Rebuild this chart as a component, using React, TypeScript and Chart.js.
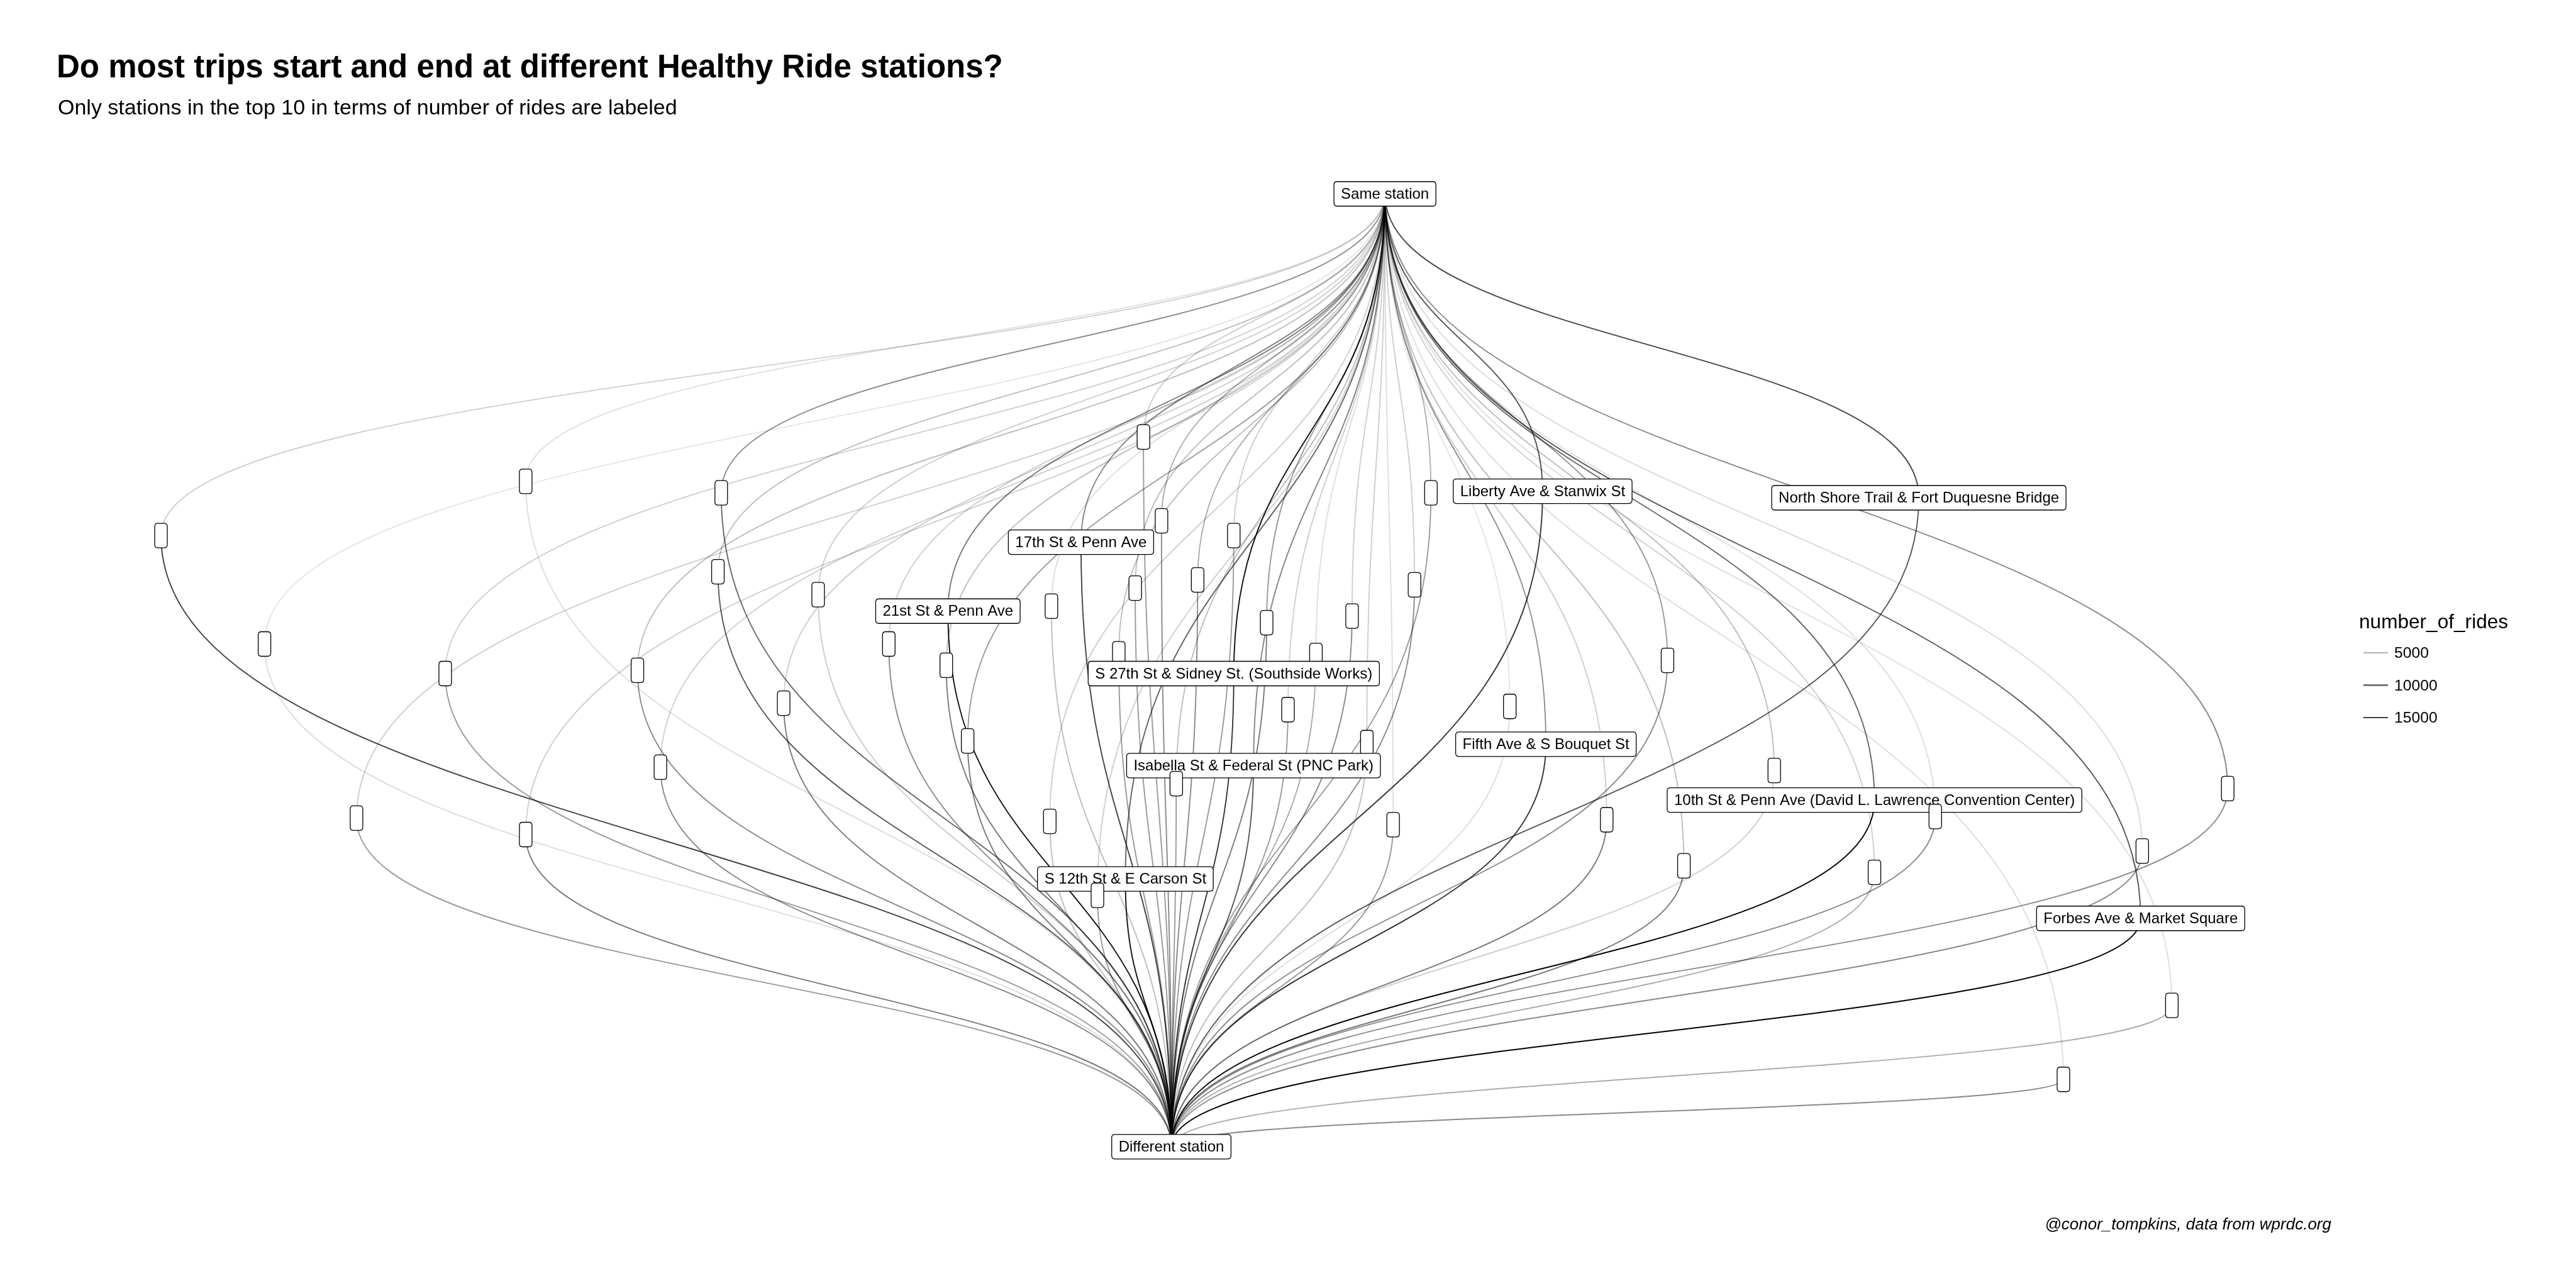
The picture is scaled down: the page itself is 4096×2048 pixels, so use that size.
import React, { useEffect, useRef } from 'react';
import { Chart, registerables } from 'chart.js';

Chart.register(...registerables);

const FONT = '"Liberation Sans", Arial, Helvetica, sans-serif';

const TITLE = 'Do most trips start and end at different Healthy Ride stations?';
const SUBTITLE = 'Only stations in the top 10 in terms of number of rides are labeled';
const CAPTION = '@conor_tompkins, data from wprdc.org';
const LEGEND_TITLE = 'number_of_rides';
const LEGEND_BREAKS = [5000, 10000, 15000];

// Hub nodes (graph layout coordinates)
const HUB_NAMES = ['Same station', 'Different station'];
const HUB_X = [8.43, 7.13];
const HUB_Y = [6.66, 0.86];

// Station nodes: label ('' = not in top 10), layout position, rides ending at same / different station
const STATION_LABELS = [
  '', '', '',
  '17th St & Penn Ave',
  '21st St & Penn Ave',
  'Liberty Ave & Stanwix St',
  'North Shore Trail & Fort Duquesne Bridge',
  'S 27th St & Sidney St. (Southside Works)',
  'Fifth Ave & S Bouquet St',
  'Isabella St & Federal St (PNC Park)',
  '10th St & Penn Ave (David L. Lawrence Convention Center)',
  'S 12th St & E Carson St',
  'Forbes Ave & Market Square',
  '', '', '', '', '', '', '', '', '', '',
  '', '', '', '', '', '', '', '', '', '',
  '', '', '', '', '', '', '', '', '', '',
  '', '', '', '', '', '', '', '', '', '', '',
];
const STATION_X = [
  6.81, 8.01, 8.32,
  6.58, 5.77, 9.39, 11.68, 7.51, 9.41, 7.63, 11.41, 6.85, 13.03,
  6.96, 3.20, 4.39, 8.71, 0.98, 7.07, 7.51, 4.37, 7.29, 8.61,
  4.98, 6.91, 6.40, 8.23, 7.71, 1.61, 5.41, 5.76, 3.88, 2.71,
  10.15, 4.77, 7.84, 9.19, 5.89, 4.02, 10.80, 7.16, 13.56, 2.17,
  6.39, 11.78, 8.48, 9.78, 3.20, 13.04, 10.25, 11.41, 6.68, 13.22, 12.56,
];
const STATION_Y = [
  3.86, 3.85, 3.32,
  4.54, 4.12, 4.85, 4.81, 3.74, 3.31, 3.18, 2.97, 2.49, 2.25,
  5.18, 4.91, 4.84, 4.84, 4.58, 4.67, 4.58, 4.36, 4.31, 4.28,
  4.22, 4.26, 4.15, 4.09, 4.05, 3.92, 3.92, 3.79, 3.76, 3.74,
  3.82, 3.56, 3.52, 3.54, 3.33, 3.17, 3.15, 3.07, 3.04, 2.86,
  2.84, 2.87, 2.82, 2.85, 2.76, 2.66, 2.57, 2.53, 2.39, 1.72, 1.27,
];
const RIDES_SAME = [
  3800, 900, 2300,
  9000, 10000, 13500, 14500, 19500, 8000, 9000, 11500, 12000, 13000,
  2300, 800, 8000, 5000, 2300, 5400, 2300, 3800, 5400, 2300,
  2300, 3800, 1000, 2300, 7000, 300, 2300, 3800, 3800, 2300,
  7000, 2300, 2300, 150, 6900, 2300, 3800, 3800, 8500, 2300,
  2300, 1000, 1000, 2300, 2300, 1200, 3800, 2300, 2300, 900, 900,
];
const RIDES_DIFFERENT = [
  7000, 5400, 3800,
  15000, 19500, 16000, 13000, 16000, 16500, 13000, 20500, 19000, 20800,
  7000, 900, 11500, 7000, 15000, 8500, 7000, 13000, 8500, 8500,
  2500, 7000, 3800, 8500, 10000, 1000, 8500, 10000, 8500, 7000,
  8500, 10000, 7000, 900, 10000, 8500, 2300, 7000, 8500, 7000,
  3800, 8500, 7000, 10000, 10000, 8500, 10000, 5400, 7000, 5400, 8500,
];

const ALL_RIDES = [...RIDES_SAME, ...RIDES_DIFFERENT];
const RIDES_MIN = Math.min(...ALL_RIDES);
const RIDES_MAX = Math.max(...ALL_RIDES);
const alphaFor = (v: number) => 0.1 + (0.9 * (v - RIDES_MIN)) / (RIDES_MAX - RIDES_MIN);

const W = 4096;
const H = 2048;

const LABEL_FONT = `24px ${FONT}`;
const BOX_H = 39;
const BOX_PAD = 11;
const EMPTY_BOX_W = 20;

function roundRectPath(ctx: CanvasRenderingContext2D, x: number, y: number, w: number, h: number, r: number) {
  ctx.beginPath();
  ctx.moveTo(x + r, y);
  ctx.lineTo(x + w - r, y);
  ctx.quadraticCurveTo(x + w, y, x + w, y + r);
  ctx.lineTo(x + w, y + h - r);
  ctx.quadraticCurveTo(x + w, y + h, x + w - r, y + h);
  ctx.lineTo(x + r, y + h);
  ctx.quadraticCurveTo(x, y + h, x, y + h - r);
  ctx.lineTo(x, y + r);
  ctx.quadraticCurveTo(x, y, x + r, y);
  ctx.closePath();
}

const networkPlugin = {
  id: 'networkEdges',
  beforeDatasetsDraw(chart: any) {
    const { ctx, scales } = chart;
    const xs = scales.x;
    const ys = scales.y;
    const edges: { fx: number; fy: number; tx: number; ty: number; v: number }[] = [];
    for (let i = 0; i < STATION_X.length; i++) {
      edges.push({ fx: HUB_X[0], fy: HUB_Y[0], tx: STATION_X[i], ty: STATION_Y[i], v: RIDES_SAME[i] });
      edges.push({ fx: STATION_X[i], fy: STATION_Y[i], tx: HUB_X[1], ty: HUB_Y[1], v: RIDES_DIFFERENT[i] });
    }
    edges.sort((a, b) => a.v - b.v);
    ctx.save();
    ctx.lineWidth = 1.9;
    ctx.lineCap = 'butt';
    for (const e of edges) {
      const x0 = xs.getPixelForValue(e.fx);
      const y0 = ys.getPixelForValue(e.fy);
      const x3 = xs.getPixelForValue(e.tx);
      const y3 = ys.getPixelForValue(e.ty);
      const ym = (y0 + y3) / 2;
      ctx.strokeStyle = `rgba(0,0,0,${alphaFor(e.v).toFixed(3)})`;
      ctx.beginPath();
      ctx.moveTo(x0, y0);
      ctx.bezierCurveTo(x0, ym, x3, ym, x3, y3);
      ctx.stroke();
    }
    ctx.restore();
  },
  afterDatasetsDraw(chart: any) {
    const { ctx } = chart;
    const meta = chart.getDatasetMeta(0);
    const labels = [...STATION_LABELS, ...HUB_NAMES];
    ctx.save();
    ctx.font = LABEL_FONT;
    ctx.textAlign = 'center';
    ctx.textBaseline = 'middle';
    meta.data.forEach((pt: any, i: number) => {
      const text = labels[i];
      const w = text ? ctx.measureText(text).width + 2 * BOX_PAD : EMPTY_BOX_W;
      const x = pt.x - w / 2;
      const y = pt.y - BOX_H / 2;
      roundRectPath(ctx, x, y, w, BOX_H, 5);
      ctx.fillStyle = '#ffffff';
      ctx.fill();
      ctx.lineWidth = 1.3;
      ctx.strokeStyle = '#000000';
      ctx.stroke();
      if (text) {
        ctx.fillStyle = '#000000';
        ctx.fillText(text, pt.x, pt.y + 1);
      }
    });
    ctx.restore();
  },
};

export default function App() {
  const canvasRef = useRef<HTMLCanvasElement | null>(null);

  useEffect(() => {
    const canvas = canvasRef.current;
    if (!canvas) return;
    const points = [
      ...STATION_X.map((x, i) => ({ x, y: STATION_Y[i] })),
      ...HUB_X.map((x, i) => ({ x, y: HUB_Y[i] })),
    ];
    const chart = new Chart(canvas, {
      type: 'scatter',
      data: {
        datasets: [
          {
            data: points,
            pointRadius: 0,
            pointHoverRadius: 0,
            showLine: false,
          },
        ],
      },
      options: {
        responsive: false,
        animation: false,
        devicePixelRatio: 1,
        events: [],
        layout: { padding: 0 },
        plugins: {
          legend: { display: false },
          tooltip: { enabled: false },
          title: { display: false },
        },
        scales: {
          x: { type: 'linear', min: 0, max: 15.68, display: false },
          y: { type: 'linear', min: 0, max: 7.84, display: false },
        },
      },
      plugins: [networkPlugin],
    } as any);
    return () => chart.destroy();
  }, []);

  const legendKeyY = [1038, 1089.5, 1141];

  return (
    <div
      style={{
        position: 'fixed',
        left: 0,
        top: 0,
        width: W,
        height: H,
        background: '#ffffff',
        overflow: 'hidden',
        fontFamily: FONT,
        color: '#000',
      }}
    >
      <canvas
        ref={canvasRef}
        width={W}
        height={H}
        style={{ position: 'absolute', left: 0, top: 0, width: W, height: H }}
      />
      <div
        style={{
          position: 'absolute',
          left: 90,
          top: 80,
          fontSize: 51,
          lineHeight: '51px',
          fontWeight: 'bold',
          whiteSpace: 'nowrap',
        }}
      >
        {TITLE}
      </div>
      <div
        style={{
          position: 'absolute',
          left: 92,
          top: 153,
          fontSize: 34,
          lineHeight: '34px',
          whiteSpace: 'nowrap',
        }}
      >
        {SUBTITLE}
      </div>
      <div
        style={{
          position: 'absolute',
          right: W - 3707,
          top: 1933,
          fontSize: 26,
          lineHeight: '26px',
          fontStyle: 'italic',
          whiteSpace: 'nowrap',
          textAlign: 'right',
        }}
      >
        {CAPTION}
      </div>
      <div
        style={{
          position: 'absolute',
          left: 3751,
          top: 973,
          fontSize: 31.6,
          lineHeight: '31.6px',
          whiteSpace: 'nowrap',
        }}
      >
        {LEGEND_TITLE}
      </div>
      {LEGEND_BREAKS.map((b, i) => (
        <React.Fragment key={b}>
          <div
            style={{
              position: 'absolute',
              left: 3758,
              top: legendKeyY[i] - 1.4,
              width: 39,
              height: 2.8,
              background: `rgba(0,0,0,${alphaFor(b).toFixed(3)})`,
            }}
          />
          <div
            style={{
              position: 'absolute',
              left: 3807,
              top: legendKeyY[i] - 12,
              fontSize: 24.7,
              lineHeight: '24.7px',
              whiteSpace: 'nowrap',
            }}
          >
            {String(b)}
          </div>
        </React.Fragment>
      ))}
    </div>
  );
}
